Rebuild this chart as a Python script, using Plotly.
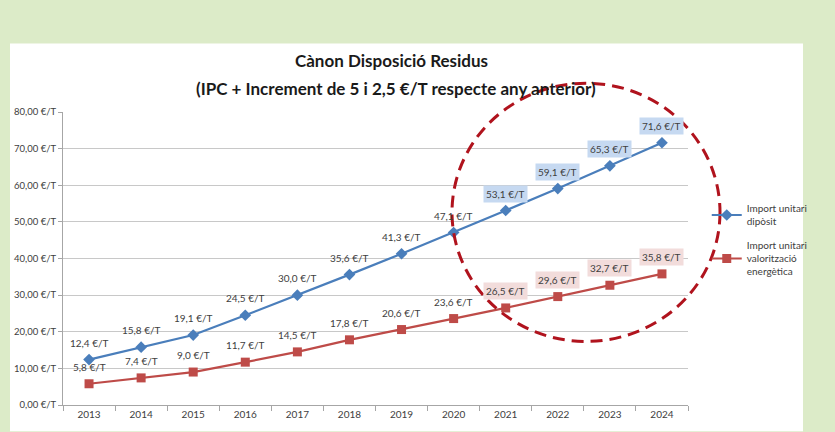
import plotly.graph_objects as go

years = ["2013", "2014", "2015", "2016", "2017", "2018", "2019", "2020", "2021", "2022", "2023", "2024"]
diposit = [12.4, 15.8, 19.1, 24.5, 30.0, 35.6, 41.3, 47.1, 53.1, 59.1, 65.3, 71.6]
valoritzacio = [5.8, 7.4, 9.0, 11.7, 14.5, 17.8, 20.6, 23.6, 26.5, 29.6, 32.7, 35.8]
highlight_from = "2021"
title_lines = ["Cànon Disposició Residus", "(IPC + Increment de 5 i 2,5 €/T respecte any anterior)"]

BLUE = "#4a7ebb"
RED = "#be4b48"
FONT = "Lato"


def fmt(v):
    return f"{v:.1f}".replace(".", ",") + " €/T"


fig = go.Figure()
fig.add_trace(go.Scatter(
    x=years, y=diposit, mode="lines+markers",
    name="Import unitari<br>dipòsit", legendgroup="diposit",
    line=dict(color=BLUE, width=2.2),
    marker=dict(symbol="diamond", size=9, color=BLUE),
))
fig.add_trace(go.Scatter(
    x=years, y=valoritzacio, mode="lines+markers",
    name="Import unitari<br>valorització<br>energètica", legendgroup="valoritzacio",
    line=dict(color=RED, width=2.2),
    marker=dict(symbol="square", size=9, color=RED),
))

# data labels, highlighted from 2021 on (x given as category index)
start = years.index(highlight_from)
for i, yr in enumerate(years):
    hl = i >= start
    fig.add_annotation(x=i, y=diposit[i], text=fmt(diposit[i]), showarrow=False,
                       yshift=17, font=dict(family=FONT, size=10, color="#404040"),
                       bgcolor="#c6d9f1" if hl else "rgba(0,0,0,0)", borderpad=2)
    fig.add_annotation(x=i, y=valoritzacio[i], text=fmt(valoritzacio[i]), showarrow=False,
                       yshift=17, font=dict(family=FONT, size=10, color="#404040"),
                       bgcolor="#f2dcdb" if hl else "rgba(0,0,0,0)", borderpad=2)

# two-line title
for txt, ty, tx in zip(title_lines, [1.176, 1.081], [0.526, 0.533]):
    fig.add_annotation(xref="paper", yref="paper", x=tx, y=ty, text=f"<b>{txt}</b>",
                       showarrow=False, xanchor="center", yanchor="middle",
                       font=dict(family=FONT, size=17, color="#1a1a1a"))

# white panel behind the chart
fig.add_shape(type="rect", xref="paper", yref="paper",
              x0=-0.0848, x1=1.184, y0=-0.09, y1=1.234,
              fillcolor="white", line=dict(width=0), layer="below")

# dashed highlight circle
fig.add_shape(type="circle", xref="paper", yref="paper",
              x0=(452 - 63) / 625, x1=(720 - 63) / 625,
              y0=(407 - 343) / 295, y1=(407 - 83) / 295,
              line=dict(color="#b0131d", width=3, dash="12px,7px"))

fig.update_layout(
    width=835, height=432,
    margin=dict(l=63, r=147, t=112, b=25),
    paper_bgcolor="#dcebc8",
    plot_bgcolor="white",
    separators=",.",
    showlegend=True,
    legend=dict(x=1.03, y=0.715, xanchor="left", yanchor="top",
                font=dict(family=FONT, size=10, color="#404040"),
                bgcolor="rgba(0,0,0,0)", tracegroupgap=8),
    xaxis=dict(
        type="category", range=[-0.5, len(years) - 0.5], showgrid=False,
        showline=True, linecolor="#a6a6a6",
        ticks="outside", tickson="boundaries", ticklen=5, tickcolor="#a6a6a6",
        tickfont=dict(family=FONT, size=10, color="#404040"),
    ),
    yaxis=dict(
        range=[0, 80], dtick=10, tickformat=".2f", ticksuffix=" €/T",
        showgrid=True, gridcolor="#c8c8c8", gridwidth=1,
        showline=True, linecolor="#a6a6a6", ticks="outside", ticklen=4, tickcolor="#a6a6a6",
        tickfont=dict(family=FONT, size=9.5, color="#404040"), zeroline=False,
    ),
)

fig.write_html("out.html", config={"displayModeBar": False},
               post_script="document.body.style.margin='0';document.body.style.overflow='hidden';")
